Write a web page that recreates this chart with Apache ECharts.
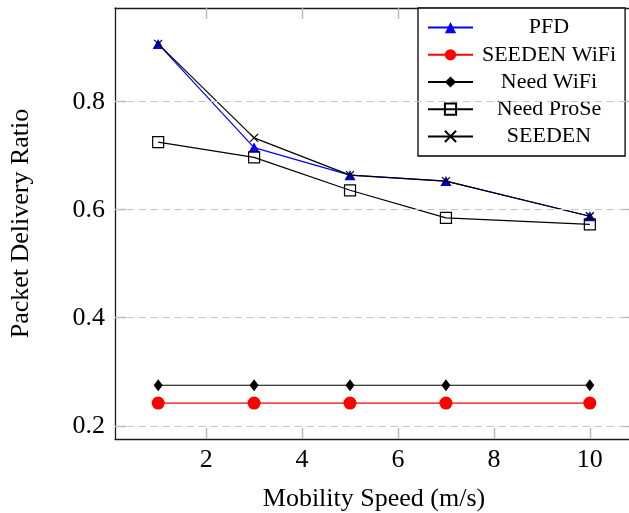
<!DOCTYPE html>
<html>
<head>
<meta charset="utf-8">
<script src="https://cdn.jsdelivr.net/npm/echarts@6/dist/echarts.min.js"></script>
<style>
html,body{margin:0;padding:0;background:#fff;}
#chart{width:629px;height:513px;}
</style>
</head>
<body>
<div id="chart"></div>
<script>
const speeds = [1, 3, 5, 7, 10];
const pfd = [0.907, 0.715, 0.664, 0.653, 0.588];
const seedenWifi = [0.242, 0.242, 0.242, 0.242, 0.242];
const needWifi = [0.275, 0.275, 0.275, 0.275, 0.275];
const needProse = [0.725, 0.697, 0.636, 0.585, 0.573];
const seeden = [0.907, 0.733, 0.664, 0.653, 0.588];
const xTicks = [2, 4, 6, 8, 10];
const yTicks = [0.2, 0.4, 0.6, 0.8];
const seriesNames = ['PFD', 'SEEDEN WiFi', 'Need WiFi', 'Need ProSe', 'SEEDEN'];

const FONT = 'Liberation Serif';
const pairs = arr => speeds.map((s, i) => [s, arr[i]]);

const chart = echarts.init(document.getElementById('chart'), null, {renderer: 'canvas'});

const axisLineStyle = {color: '#1a1a1a', width: 1.3};
const tickStyle = {color: '#b4b4b4', width: 1.4};

const option = {
  animation: false,
  backgroundColor: '#fff',
  grid: {left: 115, top: 8, width: 518, height: 431, containLabel: false, outerBoundsMode: 'none'},
  legend: {
    data: seriesNames,
    orient: 'vertical',
    left: 418,
    top: 8,
    padding: [8.6, 9, 8.6, 9],
    itemWidth: 45,
    itemHeight: 14,
    itemGap: 5.2,
    backgroundColor: '#fff',
    borderColor: '#000',
    borderWidth: 1.3,
    borderRadius: 0,
    formatter: '{c|{name}}',
    textStyle: {
      fontFamily: FONT, fontSize: 22, color: '#000',
      rich: {c: {fontFamily: FONT, fontSize: 22, color: '#000', width: 142, align: 'center'}}
    }
  },
  xAxis: [{
    type: 'value', position: 'bottom', min: 0.1, max: 10.9,
    name: 'Mobility Speed (m/s)', nameLocation: 'middle', nameGap: 47,
    nameTextStyle: {fontFamily: FONT, fontSize: 26, color: '#000'},
    axisLine: {show: true, lineStyle: axisLineStyle},
    axisTick: {show: true, inside: true, length: 11, customValues: xTicks, lineStyle: tickStyle},
    axisLabel: {customValues: xTicks, fontFamily: FONT, fontSize: 26, color: '#000', margin: 8},
    splitLine: {show: false}
  }, {
    type: 'value', position: 'top', min: 0.1, max: 10.9,
    axisLine: {show: true, lineStyle: axisLineStyle},
    axisTick: {show: true, inside: true, length: 11, customValues: xTicks, lineStyle: tickStyle},
    axisLabel: {show: false},
    splitLine: {show: false}
  }],
  yAxis: [{
    type: 'value', position: 'left', min: 0.1755, max: 0.9735,
    name: 'Packet Delivery Ratio', nameLocation: 'middle', nameGap: 81,
    nameTextStyle: {fontFamily: FONT, fontSize: 26, color: '#000'},
    axisLine: {show: true, lineStyle: axisLineStyle},
    axisTick: {show: true, inside: true, length: 11, customValues: yTicks, lineStyle: tickStyle},
    axisLabel: {customValues: yTicks, fontFamily: FONT, fontSize: 26, color: '#000', margin: 10,
      formatter: v => v.toFixed(1)},
    splitLine: {show: false}
  }, {
    type: 'value', position: 'right', min: 0.1755, max: 0.9735,
    axisLine: {show: true, lineStyle: axisLineStyle},
    axisTick: {show: true, inside: true, length: 11, customValues: yTicks, lineStyle: tickStyle},
    axisLabel: {show: false},
    splitLine: {show: false}
  }],
  series: [
    {
      name: 'grid', type: 'line', data: [], z: 1, silent: true,
      markLine: {
        silent: true, symbol: 'none', label: {show: false},
        lineStyle: {type: [7, 5], color: '#c4c4c4', width: 1.2},
        data: yTicks.map(v => ({yAxis: v}))
      }
    },
    {
      name: 'PFD', type: 'line', data: pairs(pfd), z: 3,
      symbol: 'triangle', symbolSize: [11, 10],
      lineStyle: {color: '#0000ff', width: 1.2},
      itemStyle: {color: '#0000ff'}
    },
    {
      name: 'SEEDEN WiFi', type: 'line', data: pairs(seedenWifi), z: 3,
      symbol: 'circle', symbolSize: 13,
      lineStyle: {color: '#ff0000', width: 1.2},
      itemStyle: {color: '#ff0000'}
    },
    {
      name: 'Need WiFi', type: 'line', data: pairs(needWifi), z: 3,
      symbol: 'diamond', symbolSize: [9, 12],
      lineStyle: {color: '#000', width: 1.2},
      itemStyle: {color: '#000'}
    },
    {
      name: 'Need ProSe', type: 'line', data: pairs(needProse), z: 3,
      symbol: 'rect', symbolSize: 11,
      lineStyle: {color: '#000', width: 1.2},
      itemStyle: {color: 'rgba(0,0,0,0)', borderColor: '#000', borderWidth: 1.2}
    },
    {
      name: 'SEEDEN', type: 'line', data: pairs(seeden), z: 4,
      symbol: 'path://M0,0L10,10M10,0L0,10', symbolSize: 8,
      lineStyle: {color: '#000', width: 1.2},
      itemStyle: {color: 'rgba(0,0,0,0)', borderColor: '#000', borderWidth: 1.2}
    }
  ]
};
chart.setOption(option);
</script>
</body>
</html>
